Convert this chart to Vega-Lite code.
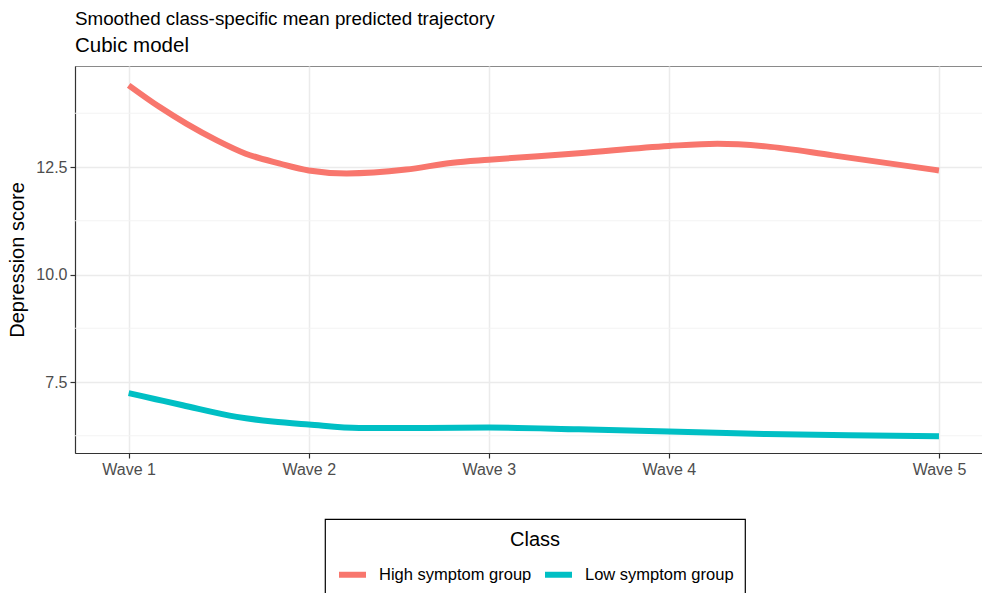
{
  "$schema": "https://vega.github.io/schema/vega-lite/v6.json",
  "width": 907,
  "height": 387,
  "autosize": "none",
  "padding": {"left": 75, "top": 66, "right": 0, "bottom": 140},
  "config": {
    "font": "Liberation Sans",
    "view": {"stroke": "#8a8a8a", "strokeWidth": 1},
    "axis": {
      "domainColor": "#333333",
      "domainWidth": 1.2,
      "tickColor": "#333333",
      "tickWidth": 1.2,
      "tickSize": 5,
      "labelColor": "#4D4D4D",
      "labelFontSize": 16,
      "labelFont": "Liberation Sans",
      "labelPadding": 3,
      "gridColor": "#EBEBEB",
      "gridWidth": 1.5,
      "titleFont": "Liberation Sans",
      "titleFontSize": 20,
      "titleFontWeight": "normal",
      "titleColor": "#000000"
    }
  },
  "title": {
    "text": "Smoothed class-specific mean predicted trajectory",
    "subtitle": "Cubic model",
    "anchor": "start",
    "frame": "group",
    "font": "Liberation Sans",
    "fontSize": 18.8,
    "fontWeight": "normal",
    "color": "#000000",
    "subtitleFont": "Liberation Sans",
    "subtitleFontSize": 20.5,
    "subtitleColor": "#000000",
    "subtitlePadding": 7,
    "offset": 10
  },
  "layer": [
    {
      "data": {"values": [{"minor": 6.25}, {"minor": 8.75}, {"minor": 11.25}, {"minor": 13.75}]},
      "mark": {"type": "rule", "color": "#F3F3F3", "strokeWidth": 1},
      "encoding": {
        "y": {
          "field": "minor", "type": "quantitative",
          "scale": {"domain": [5.849, 14.849], "nice": false, "zero": false},
          "axis": {
            "title": "Depression score",
            "values": [7.5, 10, 12.5],
            "format": ".1f",
            "grid": true,
            "titlePadding": 8
          }
        }
      }
    },
    {
      "data": {
        "values": [
          {"wave": 1.0, "score": 14.40, "cls": "High symptom group"},
          {"wave": 1.17, "score": 13.90, "cls": "High symptom group"},
          {"wave": 1.32, "score": 13.51, "cls": "High symptom group"},
          {"wave": 1.49, "score": 13.12, "cls": "High symptom group"},
          {"wave": 1.65, "score": 12.81, "cls": "High symptom group"},
          {"wave": 1.84, "score": 12.58, "cls": "High symptom group"},
          {"wave": 2.0, "score": 12.42, "cls": "High symptom group"},
          {"wave": 2.21, "score": 12.35, "cls": "High symptom group"},
          {"wave": 2.54, "score": 12.44, "cls": "High symptom group"},
          {"wave": 2.8, "score": 12.6, "cls": "High symptom group"},
          {"wave": 3.0, "score": 12.67, "cls": "High symptom group"},
          {"wave": 3.5, "score": 12.82, "cls": "High symptom group"},
          {"wave": 4.0, "score": 12.99, "cls": "High symptom group"},
          {"wave": 4.27, "score": 13.04, "cls": "High symptom group"},
          {"wave": 4.54, "score": 12.98, "cls": "High symptom group"},
          {"wave": 4.91, "score": 12.77, "cls": "High symptom group"},
          {"wave": 5.5, "score": 12.42, "cls": "High symptom group"},
          {"wave": 1.0, "score": 7.24, "cls": "Low symptom group"},
          {"wave": 1.15, "score": 7.10, "cls": "Low symptom group"},
          {"wave": 1.3, "score": 6.96, "cls": "Low symptom group"},
          {"wave": 1.6, "score": 6.69, "cls": "Low symptom group"},
          {"wave": 1.8, "score": 6.58, "cls": "Low symptom group"},
          {"wave": 2.0, "score": 6.51, "cls": "Low symptom group"},
          {"wave": 2.28, "score": 6.43, "cls": "Low symptom group"},
          {"wave": 2.65, "score": 6.43, "cls": "Low symptom group"},
          {"wave": 3.0, "score": 6.44, "cls": "Low symptom group"},
          {"wave": 3.5, "score": 6.40, "cls": "Low symptom group"},
          {"wave": 4.0, "score": 6.35, "cls": "Low symptom group"},
          {"wave": 4.54, "score": 6.29, "cls": "Low symptom group"},
          {"wave": 5.0, "score": 6.26, "cls": "Low symptom group"},
          {"wave": 5.5, "score": 6.24, "cls": "Low symptom group"}
        ]
      },
      "mark": {"type": "line", "strokeWidth": 6, "strokeCap": "butt", "interpolate": "monotone"},
      "encoding": {
        "x": {
          "field": "wave", "type": "quantitative",
          "scale": {"domain": [0.702, 5.739], "nice": false, "zero": false},
          "axis": {
            "title": null,
            "values": [1, 2, 3, 4, 5.5],
            "labelExpr": "datum.value == 5.5 ? 'Wave 5' : 'Wave ' + datum.value",
            "grid": true
          }
        },
        "y": {
          "field": "score", "type": "quantitative",
          "scale": {"domain": [5.849, 14.849], "nice": false, "zero": false},
          "axis": {
            "title": "Depression score",
            "values": [7.5, 10, 12.5],
            "format": ".1f",
            "grid": true,
            "titlePadding": 8
          }
        },
        "color": {
          "field": "cls", "type": "nominal",
          "scale": {"domain": ["High symptom group", "Low symptom group"], "range": ["#F8766D", "#00BFC4"]},
          "legend": {
            "title": "Class",
            "orient": "none",
            "direction": "horizontal",
            "legendX": 250,
            "legendY": 453,
            "strokeColor": "#000000",
            "padding": 11,
            "titleAnchor": "middle",
            "titleFont": "Liberation Sans",
            "titleFontSize": 20,
            "titleFontWeight": "normal",
            "titleColor": "#000000",
            "titlePadding": 8,
            "labelFont": "Liberation Sans",
            "labelFontSize": 16.5,
            "labelColor": "#000000",
            "labelOffset": 10,
            "columnPadding": 1,
            "symbolType": "stroke",
            "symbolStrokeWidth": 6,
            "symbolSize": 729,
            "encode": {"legend": {"update": {"strokeWidth": {"value": 1.2}}}}
          }
        }
      }
    }
  ]
}
